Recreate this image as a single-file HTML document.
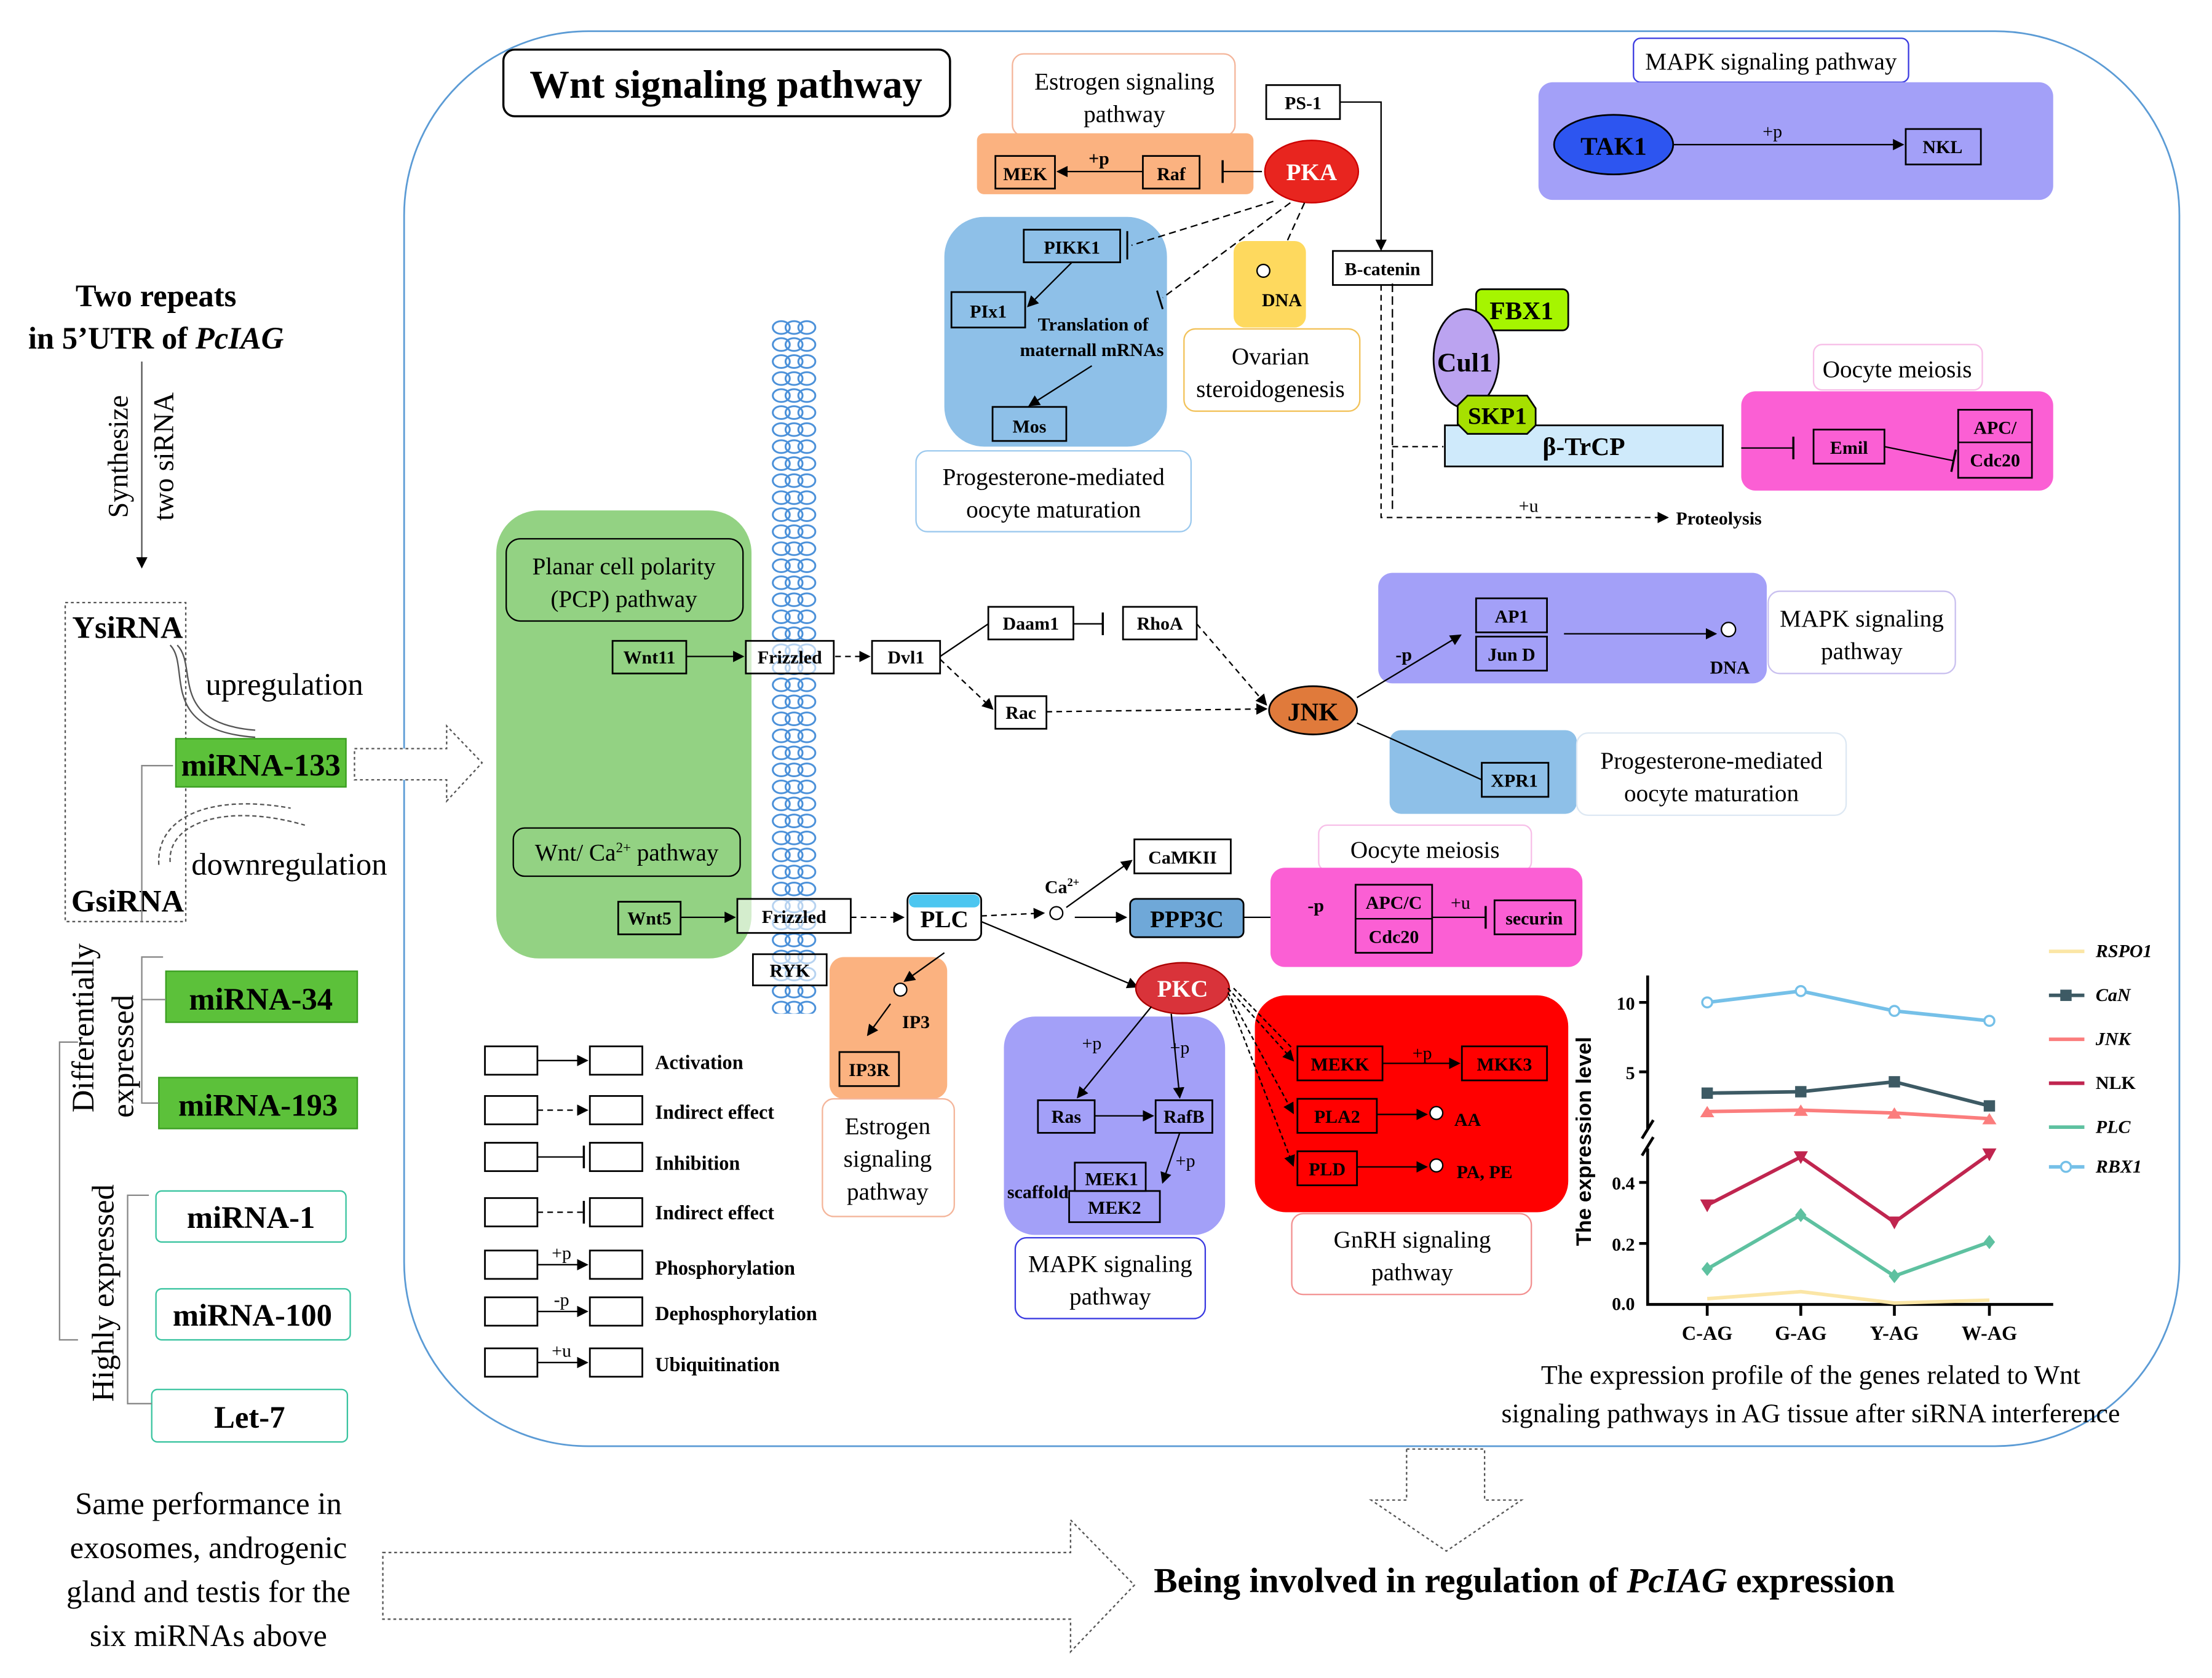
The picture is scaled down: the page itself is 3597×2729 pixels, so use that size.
<!DOCTYPE html>
<html><head><meta charset="utf-8"><style>
html,body{margin:0;padding:0;background:#fff}
svg{display:block}
text{font-family:"Liberation Serif",serif}
.b{font-weight:bold}
</style></head><body>
<svg width="3597" height="2729" viewBox="0 0 1560 1183.5" preserveAspectRatio="none" xmlns="http://www.w3.org/2000/svg">
<defs>
<marker id="ar" markerWidth="8" markerHeight="8" refX="7" refY="4" orient="auto" markerUnits="userSpaceOnUse"><path d="M0,0 L8,4 L0,8 z" fill="#000"/></marker>
<marker id="tb" markerWidth="4" markerHeight="16" refX="2" refY="8" orient="auto" markerUnits="userSpaceOnUse"><rect x="1" y="0" width="1.5" height="16" fill="#000"/></marker>
<pattern id="mem" x="543" y="225" width="34" height="12" patternUnits="userSpaceOnUse">
<ellipse cx="8" cy="6" rx="6" ry="4.5" fill="none" stroke="#4a90d9" stroke-width="1.3"/>
<ellipse cx="17" cy="6" rx="6" ry="4.5" fill="none" stroke="#4a90d9" stroke-width="1.3"/>
<ellipse cx="26" cy="6" rx="6" ry="4.5" fill="none" stroke="#4a90d9" stroke-width="1.3"/>
</pattern>
</defs>

<!-- main frame -->
<rect x="285" y="22" width="1252" height="998" rx="130" fill="none" stroke="#5b9bd5" stroke-width="1.2"/>

<!-- title -->
<rect x="355" y="35" width="315" height="47" rx="8" fill="#fff" stroke="#000" stroke-width="1.5"/>
<text x="512" y="69" font-size="28" class="b" text-anchor="middle">Wnt signaling pathway</text>

<!-- Left column -->
<text x="110" y="216" font-size="22" class="b" text-anchor="middle">Two repeats</text>
<text x="110" y="246" font-size="22" class="b" text-anchor="middle">in 5’UTR of <tspan font-style="italic">PcIAG</tspan></text>
<line x1="100" y1="255" x2="100" y2="400" stroke="#555" stroke-width="1" marker-end="url(#ar)"/>
<text transform="translate(90,322) rotate(-90)" font-size="20" text-anchor="middle">Synthesize</text>
<text transform="translate(122,322) rotate(-90)" font-size="20" text-anchor="middle">two siRNA</text>
<rect x="46" y="425" width="85" height="225" fill="none" stroke="#555" stroke-width="1" stroke-dasharray="2,2"/>
<text x="90" y="450" font-size="22" class="b" text-anchor="middle">YsiRNA</text>
<text x="90" y="643" font-size="22" class="b" text-anchor="middle">GsiRNA</text>
<path d="M120,455 C135,470 110,515 180,520" fill="none" stroke="#555" stroke-width="1"/>
<path d="M125,455 C140,470 118,510 180,515" fill="none" stroke="#555" stroke-width="1"/>
<text x="145" y="490" font-size="22">upregulation</text>
<path d="M112,610 C110,575 150,560 205,570" fill="none" stroke="#555" stroke-dasharray="3,2"/>
<path d="M120,608 C118,580 160,566 215,582" fill="none" stroke="#555" stroke-dasharray="3,2"/>
<text x="135" y="617" font-size="22">downregulation</text>
<rect x="124" y="521" width="120" height="34" fill="#5cc13a" stroke="#3a9e20"/>
<text x="184" y="547" font-size="22" class="b" text-anchor="middle">miRNA-133</text>
<path d="M250,528 L315,528 L315,512 L340,538 L315,565 L315,550 L250,550 z" fill="#fff" stroke="#555" stroke-dasharray="2,2"/>
<path d="M122,540 L100,540 L100,650" fill="none" stroke="#888" stroke-width="1"/>
<rect x="117" y="685" width="135" height="36" fill="#5cc13a" stroke="#3a9e20"/>
<text x="184" y="712" font-size="22" class="b" text-anchor="middle">miRNA-34</text>
<rect x="112" y="760" width="140" height="36" fill="#5cc13a" stroke="#3a9e20"/>
<text x="182" y="787" font-size="22" class="b" text-anchor="middle">miRNA-193</text>
<path d="M115,675 L100,675 L100,778 L112,778" fill="none" stroke="#888"/>
<path d="M100,705 L117,705" stroke="#888"/>
<text transform="translate(66,725) rotate(-90)" font-size="22" text-anchor="middle">Differentially</text>
<text transform="translate(94,745) rotate(-90)" font-size="22" text-anchor="middle">expressed</text>
<path d="M55,735 L42,735 L42,945 L55,945" fill="none" stroke="#888"/>
<rect x="110" y="840" width="134" height="36" rx="4" fill="#fff" stroke="#3ac4a0"/>
<text x="177" y="866" font-size="22" class="b" text-anchor="middle">miRNA-1</text>
<rect x="110" y="909" width="137" height="36" rx="4" fill="#fff" stroke="#3ac4a0"/>
<text x="178" y="935" font-size="22" class="b" text-anchor="middle">miRNA-100</text>
<rect x="107" y="980" width="138" height="37" rx="4" fill="#fff" stroke="#3ac4a0"/>
<text x="176" y="1007" font-size="22" class="b" text-anchor="middle">Let-7</text>
<path d="M105,843 L90,843 L90,990 L107,990" fill="none" stroke="#888"/>
<text transform="translate(80,912) rotate(-90)" font-size="22" text-anchor="middle">Highly expressed</text>
<text x="147" y="1068" font-size="22" text-anchor="middle">Same performance in</text>
<text x="147" y="1099" font-size="22" text-anchor="middle">exosomes, androgenic</text>
<text x="147" y="1130" font-size="22" text-anchor="middle">gland and testis for the</text>
<text x="147" y="1161" font-size="22" text-anchor="middle">six miRNAs above</text>
<path d="M270,1095 L755,1095 L755,1072 L800,1118 L755,1165 L755,1142 L270,1142 z" fill="#fff" stroke="#555" stroke-dasharray="2,2"/>
<text x="1075" y="1123" font-size="25" class="b" text-anchor="middle">Being involved in regulation of <tspan font-style="italic">PcIAG</tspan> expression</text>
<path d="M992,1022 L1047,1022 L1047,1058 L1073,1058 L1020,1094 L967,1058 L992,1058 z" fill="#fff" stroke="#555" stroke-dasharray="2,2"/>

<!-- PCP green -->
<rect x="350" y="360" width="180" height="316" rx="30" fill="#93d283"/>
<rect x="357" y="380" width="167" height="58" rx="10" fill="none" stroke="#000"/>
<text x="440" y="405" font-size="17" text-anchor="middle">Planar cell polarity</text>
<text x="440" y="428" font-size="17" text-anchor="middle">(PCP) pathway</text>
<rect x="362" y="584" width="160" height="34" rx="8" fill="none" stroke="#000"/>
<text x="442" y="607" font-size="17" text-anchor="middle">Wnt/ Ca<tspan font-size="10" dy="-6">2+</tspan><tspan dy="6"> pathway</tspan></text>

<!-- membrane -->
<rect x="543" y="225" width="34" height="490" fill="url(#mem)"/>

<g font-size="13" class="b" text-anchor="middle">
<rect x="432" y="452" width="52" height="23" fill="none" stroke="#000" stroke-width="1.2"/><text x="458" y="468">Wnt11</text>
<rect x="526" y="452" width="62" height="23" fill="#fff" fill-opacity="0.6" stroke="#000" stroke-width="1.2"/><text x="557" y="468">Frizzled</text>
<rect x="615" y="452" width="48" height="23" fill="#fff" stroke="#000" stroke-width="1.2"/><text x="639" y="468">Dvl1</text>
<rect x="697" y="428" width="60" height="23" fill="#fff" stroke="#000" stroke-width="1.2"/><text x="727" y="444">Daam1</text>
<rect x="792" y="428" width="52" height="23" fill="#fff" stroke="#000" stroke-width="1.2"/><text x="818" y="444">RhoA</text>
<rect x="702" y="491" width="36" height="23" fill="#fff" stroke="#000" stroke-width="1.2"/><text x="720" y="507">Rac</text>
<rect x="436" y="636" width="44" height="23" fill="none" stroke="#000" stroke-width="1.2"/><text x="458" y="652">Wnt5</text>
<rect x="520" y="634" width="80" height="24" fill="#fff" fill-opacity="0.6" stroke="#000" stroke-width="1.2"/><text x="560" y="651">Frizzled</text>
<rect x="531" y="673" width="52" height="22" fill="#fff" fill-opacity="0.6" stroke="#000" stroke-width="1.2"/><text x="557" y="689">RYK</text>
</g>
<path d="M484,463 L524,463" stroke="#000" marker-end="url(#ar)"/>
<path d="M589,463 L613,463" stroke="#000" stroke-dasharray="4,3" marker-end="url(#ar)"/>
<path d="M663,463 L697,440" stroke="#000"/>
<path d="M663,465 L700,500" stroke="#000" stroke-dasharray="4,3" marker-end="url(#ar)"/>
<path d="M757,440 L778,440" stroke="#000" marker-end="url(#tb)"/>
<path d="M844,440 L893,497" stroke="#000" stroke-dasharray="4,3" marker-end="url(#ar)"/>
<path d="M738,502 L893,500" stroke="#000" stroke-dasharray="4,3" marker-end="url(#ar)"/>
<path d="M480,647 L518,647" stroke="#000" marker-end="url(#ar)"/>
<path d="M600,647 L637,647" stroke="#000" stroke-dasharray="4,3" marker-end="url(#ar)"/>

<!-- JNK -->
<ellipse cx="926" cy="501" rx="31" ry="17" fill="#e07a3b" stroke="#000" stroke-width="1.2"/>
<text x="926" y="508" font-size="18" class="b" text-anchor="middle">JNK</text>
<rect x="972" y="404" width="274" height="78" rx="10" fill="#a3a0f8"/>
<g font-size="13" class="b" text-anchor="middle">
<rect x="1041" y="422" width="50" height="24" fill="none" stroke="#000" stroke-width="1.2"/><text x="1066" y="439">AP1</text>
<rect x="1041" y="449" width="50" height="24" fill="none" stroke="#000" stroke-width="1.2"/><text x="1066" y="466">Jun D</text>
<text x="1220" y="475" font-weight="bold">DNA</text>
<text x="990" y="466">-p</text>
</g>
<path d="M1103,447 L1210,447" stroke="#000" marker-end="url(#ar)"/>
<circle cx="1219" cy="444" r="5" fill="#fff" stroke="#000"/>
<path d="M957,492 L1030,448" stroke="#000" marker-end="url(#ar)"/>
<rect x="1247" y="417" width="132" height="58" rx="8" fill="#fff" stroke="#c9c0ef"/>
<text x="1313" y="442" font-size="17" text-anchor="middle">MAPK signaling</text>
<text x="1313" y="465" font-size="17" text-anchor="middle">pathway</text>
<rect x="980" y="515" width="132" height="59" rx="8" fill="#8ec0e8"/>
<rect x="1045" y="538" width="47" height="24" fill="none" stroke="#000" stroke-width="1.2"/><text x="1068" y="555" font-size="13" class="b" text-anchor="middle">XPR1</text>
<path d="M957,510 L1045,550" stroke="#000"/>
<rect x="1112" y="517" width="190" height="58" rx="8" fill="#fff" stroke="#dde8f3"/>
<text x="1207" y="542" font-size="17" text-anchor="middle">Progesterone-mediated</text>
<text x="1207" y="565" font-size="17" text-anchor="middle">oocyte maturation</text>

<!-- Estrogen / PKA top -->
<rect x="714" y="38" width="157" height="58" rx="8" fill="#fff" stroke="#f4b59a"/>
<text x="793" y="63" font-size="17" text-anchor="middle">Estrogen signaling</text>
<text x="793" y="86" font-size="17" text-anchor="middle">pathway</text>
<rect x="689" y="94" width="195" height="43" rx="5" fill="#fbb280"/>
<g font-size="13" class="b" text-anchor="middle">
<rect x="702" y="110" width="42" height="23" fill="none" stroke="#000" stroke-width="1.2"/><text x="723" y="127">MEK</text>
<rect x="806" y="110" width="40" height="23" fill="none" stroke="#000" stroke-width="1.2"/><text x="826" y="127">Raf</text>
<text x="775" y="116">+p</text>
</g>
<path d="M806,121 L746,121" stroke="#000" marker-end="url(#ar)"/>
<path d="M890,121 L862,121" stroke="#000" marker-end="url(#tb)"/>
<ellipse cx="925" cy="121" rx="33" ry="22" fill="#e8251f" stroke="#c00"/>
<text x="925" y="127" font-size="17" class="b" fill="#fff" text-anchor="middle">PKA</text>
<rect x="893" y="60" width="52" height="24" fill="#fff" stroke="#000" stroke-width="1.2"/><text x="919" y="77" font-size="13" class="b" text-anchor="middle">PS-1</text>
<path d="M945,72 L974,72 L974,176" fill="none" stroke="#000" marker-end="url(#ar)"/>
<rect x="940" y="177" width="70" height="24" fill="#fff" stroke="#000" stroke-width="1.2"/><text x="975" y="194" font-size="13" class="b" text-anchor="middle">B-catenin</text>
<path d="M974,201 L974,365 L1176,365" fill="none" stroke="#000" stroke-dasharray="4,3" marker-end="url(#ar)"/>
<path d="M982,200 L982,360" fill="none" stroke="#000" stroke-dasharray="6,3"/>
<path d="M982,315 L1018,315" stroke="#000" stroke-dasharray="4,3"/>
<text x="1078" y="361" font-size="13" text-anchor="middle">+u</text>
<text x="1182" y="370" font-size="13" class="b">Proteolysis</text>

<!-- Progesterone blue -->
<rect x="666" y="153" width="157" height="162" rx="28" fill="#8ec0e8"/>
<g font-size="13" class="b" text-anchor="middle">
<rect x="722" y="162" width="68" height="23" fill="none" stroke="#000" stroke-width="1.2"/><text x="756" y="179">PIKK1</text>
<rect x="671" y="206" width="52" height="25" fill="none" stroke="#000" stroke-width="1.2"/><text x="697" y="224">PIx1</text>
<text x="771" y="233">Translation of</text>
<text x="770" y="251">maternall mRNAs</text>
<rect x="700" y="287" width="52" height="24" fill="none" stroke="#000" stroke-width="1.2"/><text x="726" y="305">Mos</text>
</g>
<path d="M756,185 L725,216" stroke="#000" marker-end="url(#ar)"/>
<path d="M770,258 L726,286" stroke="#000" marker-end="url(#ar)"/>
<path d="M795,163 L795,183" stroke="#000" stroke-width="1.3"/>
<path d="M898,142 L798,173" stroke="#000" stroke-dasharray="5,3"/>
<path d="M910,143 L820,210" stroke="#000" stroke-dasharray="5,3"/>
<path d="M816,205 L820,218" stroke="#000" stroke-width="1.3"/>
<path d="M920,143 L901,185" stroke="#000" stroke-dasharray="5,3" marker-end="url(#ar)"/>
<rect x="646" y="318" width="194" height="57" rx="8" fill="#fff" stroke="#9cc9ee"/>
<text x="743" y="342" font-size="17" text-anchor="middle">Progesterone-mediated</text>
<text x="743" y="365" font-size="17" text-anchor="middle">oocyte maturation</text>
<rect x="870" y="170" width="51" height="61" rx="8" fill="#fed95e"/>
<circle cx="891" cy="191" r="4.5" fill="#fff" stroke="#000"/>
<text x="904" y="216" font-size="13" class="b" text-anchor="middle">DNA</text>
<rect x="835" y="232" width="124" height="58" rx="8" fill="#fff" stroke="#f2c25a"/>
<text x="896" y="257" font-size="17" text-anchor="middle">Ovarian</text>
<text x="896" y="280" font-size="17" text-anchor="middle">steroidogenesis</text>

<!-- SCF complex -->
<rect x="1041" y="204" width="65" height="29" rx="4" fill="#a6f500" stroke="#000" stroke-width="1.2"/>
<text x="1073" y="225" font-size="18" class="b" text-anchor="middle">FBX1</text>
<rect x="1019" y="300" width="196" height="29" fill="#cfeafb" stroke="#000" stroke-width="1.2"/>
<text x="1117" y="321" font-size="18" class="b" text-anchor="middle">β-TrCP</text>
<ellipse cx="1034" cy="253" rx="23" ry="35" fill="#bba3f0" stroke="#000" stroke-width="1.2"/>
<text x="1033" y="262" font-size="19" class="b" text-anchor="middle">Cul1</text>
<path d="M1035,279 L1077,279 L1083,288 L1083,300 L1077,306 L1035,306 L1028,299 L1028,286 z" fill="#a6e000" stroke="#000" stroke-width="1.2"/>
<text x="1056" y="299" font-size="17" class="b" text-anchor="middle">SKP1</text>

<!-- Oocyte meiosis top -->
<rect x="1279" y="243" width="119" height="32" rx="6" fill="#fff" stroke="#f7bfe8"/>
<text x="1338" y="266" font-size="17" text-anchor="middle">Oocyte meiosis</text>
<rect x="1228" y="276" width="220" height="70" rx="10" fill="#fb5fd4"/>
<path d="M1228,316 L1265,316" stroke="#000" marker-end="url(#tb)"/>
<g font-size="13" class="b" text-anchor="middle">
<rect x="1279" y="303" width="50" height="24" fill="none" stroke="#000" stroke-width="1.2"/><text x="1304" y="320">Emil</text>
<rect x="1381" y="289" width="52" height="48" fill="none" stroke="#000" stroke-width="1.2"/>
<line x1="1381" y1="312" x2="1433" y2="312" stroke="#000"/>
<text x="1407" y="306">APC/</text><text x="1407" y="329">Cdc20</text>
</g>
<path d="M1329,315 L1378,325" stroke="#000" marker-end="url(#tb)"/>

<!-- MAPK top right -->
<rect x="1152" y="27" width="194" height="31" rx="5" fill="#fff" stroke="#3a3ae0"/>
<text x="1249" y="49" font-size="17" text-anchor="middle">MAPK signaling pathway</text>
<rect x="1085" y="58" width="363" height="83" rx="10" fill="#a3a0f8"/>
<ellipse cx="1138" cy="102" rx="42" ry="21" fill="#2d55f0" stroke="#000" stroke-width="1.2"/>
<text x="1138" y="109" font-size="18" class="b" text-anchor="middle">TAK1</text>
<path d="M1180,102 L1342,102" stroke="#000" marker-end="url(#ar)"/>
<text x="1250" y="97" font-size="13" text-anchor="middle">+p</text>
<rect x="1344" y="91" width="53" height="25" fill="none" stroke="#000" stroke-width="1.2"/><text x="1370" y="108" font-size="13" class="b" text-anchor="middle">NKL</text>

<!-- PLC region -->
<rect x="640" y="630" width="52" height="33" rx="5" fill="#fff" stroke="#000" stroke-width="1.2"/>
<rect x="641" y="631" width="50" height="9" rx="4" fill="#4cc6f0"/>
<text x="666" y="654" font-size="17" class="b" text-anchor="middle">PLC</text>
<path d="M692,646 L736,644" stroke="#000" stroke-dasharray="4,3" marker-end="url(#ar)"/>
<circle cx="745" cy="644" r="4.5" fill="#fff" stroke="#000"/>
<text x="749" y="630" font-size="13" class="b" text-anchor="middle">Ca<tspan font-size="8" dy="-5">2+</tspan></text>
<path d="M752,640 L798,607" stroke="#000" marker-end="url(#ar)"/>
<path d="M758,647 L794,647" stroke="#000" marker-end="url(#ar)"/>
<path d="M692,650 L802,696" stroke="#000" marker-end="url(#ar)"/>
<rect x="800" y="592" width="68" height="24" fill="#fff" stroke="#000" stroke-width="1.2"/><text x="834" y="609" font-size="13" class="b" text-anchor="middle">CaMKII</text>
<rect x="797" y="634" width="80" height="27" rx="4" fill="#6fa8d8" stroke="#000" stroke-width="1.2"/><text x="837" y="654" font-size="17" class="b" text-anchor="middle">PPP3C</text>
<path d="M877,647 L954,647" stroke="#000" marker-end="url(#ar)"/>
<rect x="930" y="582" width="150" height="32" rx="6" fill="#fff" stroke="#f7bfe8"/>
<text x="1005" y="605" font-size="17" text-anchor="middle">Oocyte meiosis</text>
<rect x="896" y="612" width="220" height="70" rx="10" fill="#fb5fd4"/>
<g font-size="13" class="b" text-anchor="middle">
<text x="928" y="643">-p</text>
<rect x="956" y="624" width="54" height="48" fill="none" stroke="#000" stroke-width="1.2"/>
<line x1="956" y1="648" x2="1010" y2="648" stroke="#000"/>
<text x="983" y="641">APC/C</text><text x="983" y="665">Cdc20</text>
<text x="1030" y="641" font-weight="normal">+u</text>
<rect x="1054" y="635" width="57" height="24" fill="none" stroke="#000" stroke-width="1.2"/><text x="1082" y="652">securin</text>
</g>
<path d="M1010,647 L1048,647" stroke="#000" marker-end="url(#tb)"/>

<!-- IP3 estrogen -->
<rect x="585" y="675" width="83" height="100" rx="10" fill="#fbb280"/>
<path d="M666,672 L638,692" stroke="#000" marker-end="url(#ar)"/>
<circle cx="635" cy="698" r="4.5" fill="#fff" stroke="#000"/>
<text x="646" y="725" font-size="13" class="b" text-anchor="middle">IP3</text>
<path d="M628,708 L612,730" stroke="#000" marker-end="url(#ar)"/>
<rect x="592" y="742" width="42" height="24" fill="none" stroke="#000" stroke-width="1.2"/><text x="613" y="759" font-size="13" class="b" text-anchor="middle">IP3R</text>
<rect x="580" y="775" width="93" height="83" rx="8" fill="#fff" stroke="#f4b59a"/>
<text x="626" y="800" font-size="17" text-anchor="middle">Estrogen</text>
<text x="626" y="823" font-size="17" text-anchor="middle">signaling</text>
<text x="626" y="846" font-size="17" text-anchor="middle">pathway</text>

<!-- PKC -->
<rect x="708" y="717" width="156" height="154" rx="22" fill="#a3a0f8"/>
<ellipse cx="834" cy="697" rx="33" ry="18" fill="#d9333a" stroke="#a00"/>
<text x="834" y="703" font-size="17" class="b" fill="#fff" text-anchor="middle">PKC</text>
<g font-size="13" class="b" text-anchor="middle">
<rect x="732" y="776" width="40" height="23" fill="none" stroke="#000" stroke-width="1.2"/><text x="752" y="792">Ras</text>
<rect x="815" y="776" width="40" height="23" fill="none" stroke="#000" stroke-width="1.2"/><text x="835" y="792">RafB</text>
<rect x="758" y="820" width="50" height="20" fill="none" stroke="#000" stroke-width="1.2"/><text x="784" y="836">MEK1</text>
<rect x="754" y="840" width="64" height="22" fill="none" stroke="#000" stroke-width="1.2"/><text x="786" y="856">MEK2</text>
<text x="732" y="845">scaffold</text>
<text x="770" y="740" font-weight="normal">+p</text>
<text x="832" y="743" font-weight="normal">+p</text>
<text x="836" y="823" font-weight="normal">+p</text>
</g>
<path d="M812,710 L760,774" stroke="#000" marker-end="url(#ar)"/>
<path d="M826,715 L832,774" stroke="#000" marker-end="url(#ar)"/>
<path d="M772,787 L813,787" stroke="#000" marker-end="url(#ar)"/>
<path d="M832,799 L820,834" stroke="#000" marker-end="url(#ar)"/>
<rect x="716" y="873" width="134" height="57" rx="8" fill="#fff" stroke="#3a3ae0"/>
<text x="783" y="897" font-size="17" text-anchor="middle">MAPK signaling</text>
<text x="783" y="920" font-size="17" text-anchor="middle">pathway</text>

<!-- GnRH -->
<rect x="885" y="702" width="221" height="153" rx="22" fill="#ff0000"/>
<g font-size="13" class="b" text-anchor="middle">
<rect x="915" y="738" width="60" height="24" fill="none" stroke="#000" stroke-width="1.2"/><text x="945" y="755">MEKK</text>
<rect x="1031" y="738" width="60" height="24" fill="none" stroke="#000" stroke-width="1.2"/><text x="1061" y="755">MKK3</text>
<rect x="915" y="775" width="56" height="24" fill="none" stroke="#000" stroke-width="1.2"/><text x="943" y="792">PLA2</text>
<rect x="915" y="812" width="42" height="24" fill="none" stroke="#000" stroke-width="1.2"/><text x="936" y="829">PLD</text>
<text x="1003" y="747" font-weight="normal">+p</text>
<text x="1035" y="794">AA</text>
<text x="1047" y="831">PA, PE</text>
</g>
<path d="M975,750 L1029,750" stroke="#000" marker-end="url(#ar)"/>
<path d="M971,786 L1006,786" stroke="#000" marker-end="url(#ar)"/>
<circle cx="1013" cy="785" r="4.5" fill="#fff" stroke="#000"/>
<path d="M957,823 L1006,823" stroke="#000" marker-end="url(#ar)"/>
<circle cx="1013" cy="822" r="4.5" fill="#fff" stroke="#000"/>
<g stroke="#000" stroke-dasharray="3,2" fill="none">
<path d="M866,697 L912,748" marker-end="url(#ar)"/>
<path d="M866,700 L912,785" marker-end="url(#ar)"/>
<path d="M866,703 L912,822" marker-end="url(#ar)"/>
<path d="M870,697 L912,740"/>
</g>
<rect x="911" y="856" width="169" height="57" rx="8" fill="#fff" stroke="#f29090"/>
<text x="996" y="880" font-size="17" text-anchor="middle">GnRH signaling</text>
<text x="996" y="903" font-size="17" text-anchor="middle">pathway</text>

<!-- Legend -->
<g stroke="#000" stroke-width="1.2" fill="none">
<rect x="342" y="738" width="37" height="20"/><rect x="416" y="738" width="37" height="20"/>
<rect x="342" y="773" width="37" height="20"/><rect x="416" y="773" width="37" height="20"/>
<rect x="342" y="806" width="37" height="20"/><rect x="416" y="806" width="37" height="20"/>
<rect x="342" y="845" width="37" height="20"/><rect x="416" y="845" width="37" height="20"/>
<rect x="342" y="882" width="37" height="20"/><rect x="416" y="882" width="37" height="20"/>
<rect x="342" y="915" width="37" height="20"/><rect x="416" y="915" width="37" height="20"/>
<rect x="342" y="951" width="37" height="20"/><rect x="416" y="951" width="37" height="20"/>
</g>
<path d="M379,748 L414,748" stroke="#000" marker-end="url(#ar)"/>
<path d="M379,783 L414,783" stroke="#000" stroke-dasharray="4,3" marker-end="url(#ar)"/>
<path d="M379,816 L412,816" stroke="#000" marker-end="url(#tb)"/>
<path d="M379,855 L412,855" stroke="#000" stroke-dasharray="4,3" marker-end="url(#tb)"/>
<path d="M379,892 L414,892" stroke="#000" marker-end="url(#ar)"/>
<path d="M379,925 L414,925" stroke="#000" marker-end="url(#ar)"/>
<path d="M379,961 L414,961" stroke="#000" marker-end="url(#ar)"/>
<text x="396" y="888" font-size="13" text-anchor="middle">+p</text>
<text x="396" y="921" font-size="13" text-anchor="middle">-p</text>
<text x="396" y="957" font-size="13" text-anchor="middle">+u</text>
<g font-size="14" class="b">
<text x="462" y="754">Activation</text>
<text x="462" y="789">Indirect effect</text>
<text x="462" y="825">Inhibition</text>
<text x="462" y="860">Indirect effect</text>
<text x="462" y="899">Phosphorylation</text>
<text x="462" y="931">Dephosphorylation</text>
<text x="462" y="967">Ubiquitination</text>
</g>

<!-- Chart -->
<g stroke="#000" stroke-width="2" fill="none">
<path d="M1162,688 L1162,796"/><path d="M1162,810 L1162,920 L1448,920"/>
<path d="M1156,707 L1162,707 M1156,756 L1162,756 M1156,834 L1162,834 M1156,877 L1162,877"/>
<path d="M1158,803 L1166,790 M1158,815 L1166,802"/>
<path d="M1204,920 L1204,928 M1270,920 L1270,928 M1336,920 L1336,928 M1403,920 L1403,928"/>
</g>
<g font-size="13" class="b" text-anchor="end">
<text x="1153" y="712">10</text><text x="1153" y="761">5</text>
<text x="1153" y="839">0.4</text><text x="1153" y="882">0.2</text><text x="1153" y="924">0.0</text>
</g>
<g font-size="14" class="b" text-anchor="middle">
<text x="1204" y="945">C-AG</text><text x="1270" y="945">G-AG</text><text x="1336" y="945">Y-AG</text><text x="1403" y="945">W-AG</text>
</g>
<text transform="translate(1122,805) rotate(-90)" font-size="15" class="b" text-anchor="middle" style="font-family:'Liberation Sans',sans-serif">The expression level</text>
<g fill="none" stroke-width="2.5">
<polyline points="1204,916 1270,911 1336,919 1403,917" stroke="#fbe6a6"/>
<polyline points="1204,895 1270,857 1336,900 1403,876" stroke="#5ec1a0"/>
<polyline points="1204,850 1270,816 1336,862 1403,814" stroke="#c0254f"/>
<polyline points="1204,784 1270,783 1336,785 1403,789" stroke="#fb7d7d"/>
<polyline points="1204,771 1270,770 1336,763 1403,780" stroke="#3d5a64"/>
<polyline points="1204,707 1270,699 1336,713 1403,720" stroke="#75c0e8"/>
</g>
<g fill="#3d5a64"><rect x="1200" y="767" width="8" height="8"/><rect x="1266" y="766" width="8" height="8"/><rect x="1332" y="759" width="8" height="8"/><rect x="1399" y="776" width="8" height="8"/></g>
<g fill="#75c0e8" stroke="#75c0e8"><circle cx="1204" cy="707" r="3.5" fill="#fff" stroke-width="1.5"/><circle cx="1270" cy="699" r="3.5" fill="#fff" stroke-width="1.5"/><circle cx="1336" cy="713" r="3.5" fill="#fff" stroke-width="1.5"/><circle cx="1403" cy="720" r="3.5" fill="#fff" stroke-width="1.5"/></g>
<g fill="#c0254f"><path d="M1199,846 L1209,846 L1204,855z M1265,812 L1275,812 L1270,821z M1331,858 L1341,858 L1336,867z M1398,810 L1408,810 L1403,819z"/></g>
<g fill="#fb7d7d"><path d="M1199,788 L1209,788 L1204,780z M1265,787 L1275,787 L1270,779z M1331,789 L1341,789 L1336,781z M1398,793 L1408,793 L1403,785z"/></g>
<g fill="#5ec1a0"><path d="M1204,890 L1208,895 L1204,900 L1200,895z M1270,852 L1274,857 L1270,862 L1266,857z M1336,895 L1340,900 L1336,905 L1332,900z M1403,871 L1407,876 L1403,881 L1399,876z"/></g>
<!-- chart legend -->
<g stroke-width="2.5">
<line x1="1445" y1="671" x2="1470" y2="671" stroke="#fbe6a6"/>
<line x1="1445" y1="702" x2="1470" y2="702" stroke="#3d5a64"/>
<line x1="1445" y1="733" x2="1470" y2="733" stroke="#fb7d7d"/>
<line x1="1445" y1="764" x2="1470" y2="764" stroke="#c0254f"/>
<line x1="1445" y1="795" x2="1470" y2="795" stroke="#5ec1a0"/>
<line x1="1445" y1="823" x2="1470" y2="823" stroke="#75c0e8"/>
</g>
<rect x="1453" y="698" width="8" height="8" fill="#3d5a64"/>
<circle cx="1457" cy="823" r="3.5" fill="#fff" stroke="#75c0e8" stroke-width="1.5"/>
<g font-size="13" class="b" font-style="italic">
<text x="1478" y="675">RSPO1</text><text x="1478" y="706">CaN</text><text x="1478" y="737">JNK</text>
<text x="1478" y="768" font-style="normal">NLK</text><text x="1478" y="799">PLC</text><text x="1478" y="827">RBX1</text>
</g>
<text x="1277" y="976" font-size="19" text-anchor="middle">The expression profile of the genes related to Wnt</text>
<text x="1277" y="1003" font-size="19" text-anchor="middle">signaling pathways in AG tissue after siRNA interference</text>
</svg>
</body></html>
